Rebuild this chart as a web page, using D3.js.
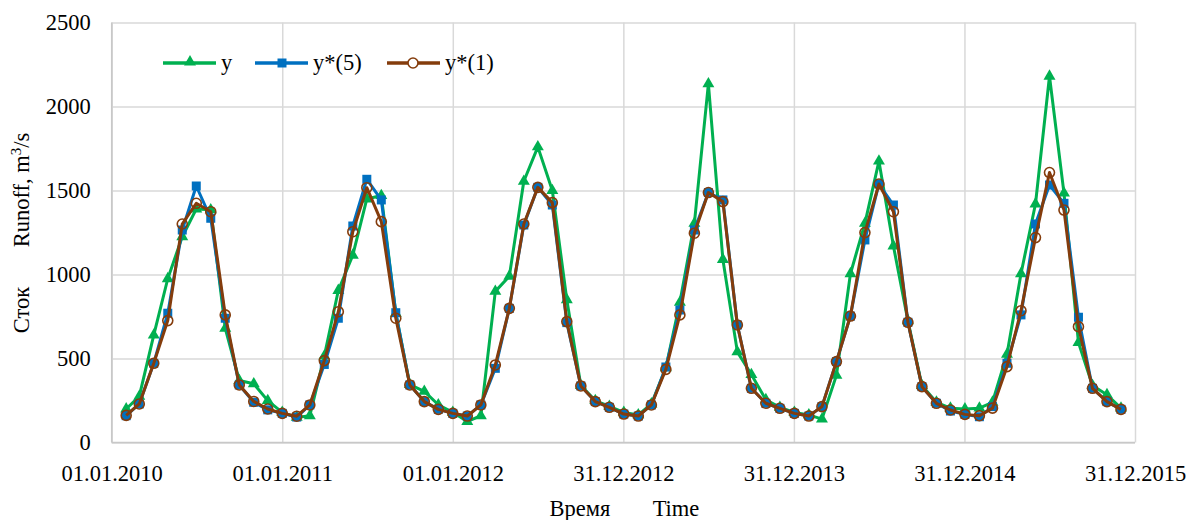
<!DOCTYPE html>
<html>
<head>
<meta charset="utf-8">
<script src="https://cdn.jsdelivr.net/npm/d3@7"></script>
<style>
  html, body { margin: 0; padding: 0; background: #fff; }
  svg { display: block; }
  svg text { font-family: "Liberation Serif", "Times New Roman", Tinos, "DejaVu Serif", serif !important; fill: #000; }
</style>
</head>
<body>
<svg id="chart" width="1190" height="520"></svg>
<script>
// ---- Data ----
const months = [
  "2010-02","2010-03","2010-04","2010-05","2010-06","2010-07","2010-08","2010-09","2010-10","2010-11","2010-12","2011-01",
  "2011-02","2011-03","2011-04","2011-05","2011-06","2011-07","2011-08","2011-09","2011-10","2011-11","2011-12","2012-01",
  "2012-02","2012-03","2012-04","2012-05","2012-06","2012-07","2012-08","2012-09","2012-10","2012-11","2012-12","2013-01",
  "2013-02","2013-03","2013-04","2013-05","2013-06","2013-07","2013-08","2013-09","2013-10","2013-11","2013-12","2014-01",
  "2014-02","2014-03","2014-04","2014-05","2014-06","2014-07","2014-08","2014-09","2014-10","2014-11","2014-12","2015-01",
  "2015-02","2015-03","2015-04","2015-05","2015-06","2015-07","2015-08","2015-09","2015-10","2015-11","2015-12"
];
const yObserved = [
  200, 275, 640, 975, 1225, 1390, 1385, 680, 370, 350, 250, 180,
  150, 160, 515, 905, 1115, 1450, 1470, 770, 345, 305, 225, 180,
  125, 160, 900, 990, 1555, 1760, 1500, 850, 340, 250, 215, 180,
  165, 230, 445, 835, 1305, 2135, 1090, 540, 405, 255, 210, 180,
  165, 140, 400, 1005, 1305, 1675, 1170, 725, 340, 240, 205, 200,
  205, 240, 525, 1005, 1420, 2180, 1485, 595, 340, 285, 205
];
const yModel5 = [
  160, 230, 472, 770, 1265, 1527, 1335, 740, 343, 240, 195, 174,
  152, 224, 465, 740, 1289, 1567, 1444, 773, 343, 244, 198, 174,
  158, 224, 442, 799, 1295, 1519, 1414, 714, 337, 244, 210, 170,
  158, 224, 450, 789, 1265, 1488, 1444, 700, 323, 234, 204, 174,
  158, 214, 482, 753, 1206, 1539, 1414, 716, 333, 234, 188, 168,
  154, 214, 472, 760, 1301, 1533, 1424, 746, 323, 244, 198
];
const yModel1 = [
  162, 230, 472, 726, 1301, 1424, 1374, 760, 343, 245, 200, 174,
  157, 224, 488, 779, 1255, 1517, 1315, 740, 343, 244, 198, 174,
  158, 224, 462, 799, 1301, 1519, 1428, 720, 337, 244, 210, 170,
  158, 224, 436, 760, 1246, 1488, 1434, 700, 323, 234, 204, 174,
  158, 214, 482, 753, 1250, 1539, 1374, 716, 333, 234, 194, 168,
  160, 205, 452, 785, 1220, 1607, 1384, 690, 323, 244, 198
];
const xTickDates = ["2010-01-01","2011-01-01","2012-01-01","2012-12-31","2013-12-31","2014-12-31","2015-12-31"];
const xTickLabels = ["01.01.2010","01.01.2011","01.01.2012","31.12.2012","31.12.2013","31.12.2014","31.12.2015"];
const yTicks = [0, 500, 1000, 1500, 2000, 2500];
const seriesNames = ["y", "y*(5)", "y*(1)"];

// ---- Layout ----
const svg = d3.select("#chart");
const L = 111.7, R = 1135, T = 22.5, B = 442.6;
const parseDay = d3.timeParse("%Y-%m-%d");
const parseMonth = d3.timeParse("%Y-%m");
const dates = months.map(parseMonth);
const tickDates = xTickDates.map(parseDay);

const x = d3.scaleTime().domain([tickDates[0], tickDates[tickDates.length - 1]]).range([L, R]);
const y = d3.scaleLinear().domain([0, 2500]).range([B, T]);

const FS = 22.5;
const FONT = '"Liberation Serif", "Times New Roman", Tinos, "DejaVu Serif", serif';

// gridlines
const gy = svg.append("g").attr("transform", `translate(${L},0)`)
  .call(d3.axisLeft(y).tickValues(yTicks).tickSize(-(R - L)).tickFormat(""));
gy.select(".domain").remove();
gy.selectAll("line").attr("stroke", "#d9d9d9").attr("stroke-width", 1.5);

const gx = svg.append("g").attr("transform", `translate(0,${B})`)
  .call(d3.axisBottom(x).tickValues(tickDates).tickSize(-(B - T)).tickFormat(""));
gx.select(".domain").remove();
gx.selectAll("line").attr("stroke", "#d9d9d9").attr("stroke-width", 1.5);

// axis lines
svg.append("line").attr("x1", L).attr("x2", L).attr("y1", T).attr("y2", B)
  .attr("stroke", "#c8c8c8").attr("stroke-width", 1.5);
svg.append("line").attr("x1", L).attr("x2", R).attr("y1", B).attr("y2", B)
  .attr("stroke", "#c8c8c8").attr("stroke-width", 1.5);

// y tick labels
const ya = svg.append("g").attr("transform", `translate(${L},0)`)
  .call(d3.axisLeft(y).tickValues(yTicks).tickSize(0).tickPadding(21).tickFormat(d3.format("d")));
ya.select(".domain").remove();
ya.attr("font-family", FONT);
ya.selectAll("text").attr("font-size", FS).style("font-family", FONT).attr("fill", "#000");

// x tick labels
const xa = svg.append("g").attr("transform", `translate(0,${B})`)
  .call(d3.axisBottom(x).tickValues(tickDates).tickSize(0).tickPadding(22)
    .tickFormat((d, i) => xTickLabels[i]));
xa.select(".domain").remove();
xa.attr("font-family", FONT);
xa.selectAll("text").attr("font-size", FS).style("font-family", FONT).attr("fill", "#000");

// axis titles
svg.append("text")
  .attr("x", 580).attr("y", 516)
  .attr("text-anchor", "middle").attr("font-size", FS)
  .style("font-family", FONT)
  .text("Время");
svg.append("text")
  .attr("x", 676).attr("y", 516)
  .attr("text-anchor", "middle").attr("font-size", FS)
  .style("font-family", FONT)
  .text("Time");

svg.append("text")
  .attr("transform", `translate(29,310) rotate(-90)`)
  .attr("text-anchor", "middle").attr("font-size", FS)
  .style("font-family", FONT)
  .text("Сток");
const yt = svg.append("text")
  .attr("transform", `translate(29,190) rotate(-90)`)
  .attr("text-anchor", "middle").attr("font-size", FS)
  .style("font-family", FONT);
yt.append("tspan").text("Runoff, m");
yt.append("tspan").attr("dy", -8).attr("font-size", 15).text("3");
yt.append("tspan").attr("dy", 8).text("/s");

// ---- Series ----
const colors = ["#00B050", "#0070C0", "#843C0C"];
const seriesData = [yObserved, yModel5, yModel1];
const line = d3.line().x((d, i) => x(dates[i])).y(d => y(d));

const tri = d3.symbol().type(d3.symbolTriangle).size(62);
const sq = d3.symbol().type(d3.symbolSquare).size(81);

seriesData.forEach((vals, si) => {
  const g = svg.append("g");
  g.append("path").datum(vals).attr("d", line)
    .attr("fill", "none").attr("stroke", colors[si]).attr("stroke-width", 3)
    .attr("stroke-linejoin", "round");
  if (si === 0) {
    g.selectAll("path.m").data(vals).enter().append("path").attr("class", "m")
      .attr("d", tri).attr("transform", (d, i) => `translate(${x(dates[i])},${y(d)})`)
      .attr("fill", colors[si]);
  } else if (si === 1) {
    g.selectAll("path.m").data(vals).enter().append("path").attr("class", "m")
      .attr("d", sq).attr("transform", (d, i) => `translate(${x(dates[i])},${y(d)})`)
      .attr("fill", colors[si]);
  } else {
    g.selectAll("circle").data(vals).enter().append("circle")
      .attr("cx", (d, i) => x(dates[i])).attr("cy", d => y(d)).attr("r", 5)
      .attr("fill", "none").attr("stroke", colors[si]).attr("stroke-width", 1.6);
  }
});

// ---- Legend ----
const legendX = [163, 255, 387];
const legY = 63;
seriesNames.forEach((name, i) => {
  const g = svg.append("g").attr("transform", `translate(${legendX[i]},${legY})`);
  g.append("line").attr("x1", 0).attr("x2", 53).attr("y1", 0).attr("y2", 0)
    .attr("stroke", colors[i]).attr("stroke-width", 3.5);
  if (i === 0) {
    g.append("path").attr("d", tri).attr("transform", "translate(27,-1)").attr("fill", colors[i]);
  } else if (i === 1) {
    g.append("path").attr("d", sq).attr("transform", "translate(27,0)").attr("fill", colors[i]);
  } else {
    g.append("circle").attr("cx", 26).attr("cy", 0).attr("r", 5)
      .attr("fill", "#fff").attr("stroke", colors[i]).attr("stroke-width", 1.6);
  }
  g.append("text").attr("x", 58).attr("y", 7).attr("font-size", FS).style("font-family", FONT).text(name);
});
</script>
</body>
</html>
